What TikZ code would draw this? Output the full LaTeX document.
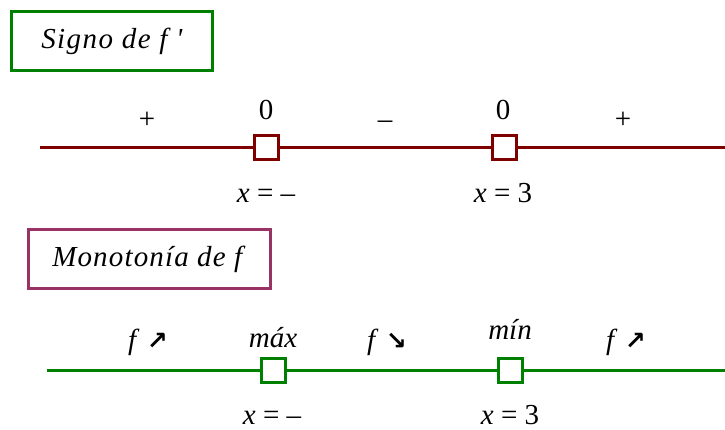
\documentclass[tikz,border=0pt]{standalone}
\usepackage{fontspec}
\setmainfont{Liberation Serif}
\newfontfamily\flechas{DejaVu Sans Bold}
\usepackage{xcolor}
\usetikzlibrary{positioning}

\definecolor{verde}{RGB}{0,128,0}
\definecolor{granate}{RGB}{128,0,0}
\definecolor{morado}{RGB}{153,51,102}

\newcommand{\flecha}[1]{{\flechas\fontsize{25}{28}\selectfont #1}}

\begin{document}
\begin{tikzpicture}[x=1pt, y=-1pt, font=\fontsize{29}{34}\selectfont,
    caja/.style={line width=3pt, minimum width=201pt, minimum height=59pt, inner sep=0pt},
    cuadro/.style={fill=white, line width=3pt, minimum size=24pt, inner sep=0pt},
    recta/.style={line width=3pt},
    rotulo/.style={anchor=base, inner sep=0pt}]
    \useasboundingbox (0,0) rectangle (725,430);

    % Signo de f'
    \node[caja, draw=verde] (signo) at (112,41)
        {\addfontfeature{LetterSpace=5}\textit{Signo de f \textquotesingle}};
    \coordinate (s0) at (40,148);
    \coordinate (s3) at (725,148);
    \node[cuadro, draw=granate] (s1) at (266,148) {};
    \node[cuadro, draw=granate] (s2) at (504,148) {};
    \draw[recta, granate] (s0) -- (s1) (s1) -- (s2) (s2) -- (s3);
    \node[rotulo] (c1) at (147,129) {+};
    \node[rotulo] (z1) at (266,120) {0};
    \node[rotulo] (c2) at (385,129) {--};
    \node[rotulo] (z2) at (503,120) {0};
    \node[rotulo] (c3) at (623,129) {+};
    \node[rotulo] (xs1) at (266,203) {\textit{x} = --};
    \node[rotulo] (xs2) at (503,203) {\textit{x} = 3};

    % Monotonía de f
    \node[caja, draw=morado, minimum width=242pt] (mono) at (149.5,259)
        {\addfontfeature{LetterSpace=4}\textit{Monotonía de f}};
    \coordinate (m0) at (47,370);
    \coordinate (m3) at (725,370);
    \node[cuadro, draw=verde] (m1) at (273,370) {};
    \node[cuadro, draw=verde] (m2) at (510,370) {};
    \draw[recta, verde] (m0) -- (m1) (m1) -- (m2) (m2) -- (m3);
    \node[rotulo] (f1) at (148,349) {\textit{f} \flecha{↗}};
    \node[rotulo] (max) at (273,347) {\textit{máx}};
    \node[rotulo] (f2) at (387,349) {\textit{f} \flecha{↘}};
    \node[rotulo] (min) at (510,339) {\textit{mín}};
    \node[rotulo] (f3) at (626,349) {\textit{f} \flecha{↗}};
    \node[rotulo] (xm1) at (272,424) {\textit{x} = --};
    \node[rotulo] (xm2) at (510,424) {\textit{x} = 3};
\end{tikzpicture}
\end{document}
